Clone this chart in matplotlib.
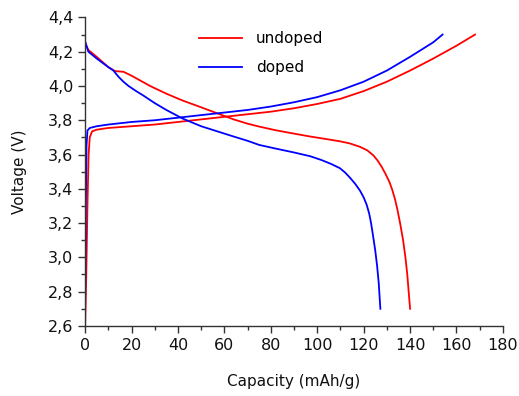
import matplotlib
matplotlib.use("Agg")
import matplotlib.pyplot as plt
from matplotlib.ticker import MultipleLocator, FuncFormatter

# =====================
#   DATA
# =====================
# undoped (red)
undoped_charge_cap = [0, 0.5, 1.0, 1.5, 2, 3, 5, 10, 20, 30, 40, 50, 60, 70, 80,
                      90, 100, 110, 120, 130, 140, 150, 160, 168]
undoped_charge_v = [2.6, 2.9, 3.3, 3.6, 3.70, 3.735, 3.745, 3.755, 3.765, 3.775,
                    3.79, 3.805, 3.82, 3.835, 3.85, 3.87, 3.895, 3.925, 3.97,
                    4.025, 4.09, 4.16, 4.235, 4.3]
undoped_dis_cap = [0, 0.7, 1.4, 5, 10, 12.9, 14.5, 16.5, 20, 24, 28, 35, 42, 49.5,
                   56, 64, 70, 75, 82, 90, 97, 104, 109.8, 114, 118.4, 121.5,
                   124.2, 126, 127.7, 129.5, 131.1, 132.3, 133.5, 134.6, 135.7,
                   137, 138, 138.8, 139.4, 140]
undoped_dis_v = [4.25, 4.23, 4.21, 4.17, 4.11, 4.087, 4.085, 4.083, 4.06, 4.03,
                 4.0, 3.955, 3.915, 3.878, 3.845, 3.805, 3.78, 3.763, 3.742,
                 3.722, 3.705, 3.69, 3.677, 3.665, 3.645, 3.625, 3.595, 3.565,
                 3.53, 3.485, 3.44, 3.395, 3.34, 3.275, 3.20, 3.10, 3.00, 2.90,
                 2.80, 2.70]

# doped (blue)
doped_charge_cap = [0, 0.3, 0.6, 1.0, 2, 5, 10, 20, 30, 40, 50, 60, 70, 80, 90,
                    100, 110, 120, 130, 140, 150, 154]
doped_charge_v = [2.75, 3.3, 3.65, 3.74, 3.755, 3.765, 3.775, 3.79, 3.80, 3.815,
                  3.83, 3.845, 3.86, 3.88, 3.905, 3.935, 3.975, 4.025, 4.09,
                  4.17, 4.255, 4.3]
doped_dis_cap = [0, 0.7, 1.4, 5, 10, 12.2, 14.3, 16.5, 18.7, 22, 25, 30, 35, 42,
                 50, 57, 64, 70, 75, 82, 90, 97, 102, 106, 109.8, 112, 114.1,
                 116.3, 118.4, 120, 121.3, 122.4, 123.2, 124, 125, 125.8, 126.5,
                 127.2]
doped_dis_v = [4.26, 4.23, 4.2, 4.16, 4.11, 4.09, 4.055, 4.025, 4.0, 3.97, 3.945,
               3.9, 3.86, 3.81, 3.765, 3.735, 3.705, 3.68, 3.656, 3.635, 3.612,
               3.59, 3.567, 3.545, 3.52, 3.495, 3.465, 3.43, 3.39, 3.35, 3.307,
               3.255, 3.20, 3.13, 3.04, 2.95, 2.85, 2.70]

RED = "#ff0000"
BLUE = "#0000ff"

# =====================
#   PLOT
# =====================
fig = plt.figure(figsize=(5.19, 3.96), dpi=100)
ax = fig.add_axes([0.164, 0.177, 0.805, 0.779])

ax.plot(undoped_charge_cap, undoped_charge_v, color=RED, lw=1.3, label="undoped")
ax.plot(undoped_dis_cap, undoped_dis_v, color=RED, lw=1.3)
ax.plot(doped_charge_cap, doped_charge_v, color=BLUE, lw=1.3, label="doped")
ax.plot(doped_dis_cap, doped_dis_v, color=BLUE, lw=1.3)

ax.set_xlim(0, 180)
ax.set_ylim(2.6, 4.4)
ax.xaxis.set_major_locator(MultipleLocator(20))
ax.xaxis.set_minor_locator(MultipleLocator(10))
ax.yaxis.set_major_locator(MultipleLocator(0.2))
ax.yaxis.set_minor_locator(MultipleLocator(0.1))
ax.yaxis.set_major_formatter(FuncFormatter(lambda v, p: f"{v:.1f}".replace(".", ",")))

for side in ("top", "right"):
    ax.spines[side].set_visible(False)
for side in ("left", "bottom"):
    ax.spines[side].set_color("#333333")
    ax.spines[side].set_linewidth(1.0)

ax.tick_params(which="major", direction="out", length=5, width=1, color="#333333",
               labelsize=11.5, labelcolor="#111111")
ax.tick_params(which="minor", direction="out", length=3, width=1, color="#333333")

ax.set_xlabel("Capacity (mAh/g)", fontsize=11, labelpad=15, color="#111111")
ax.set_ylabel("Voltage (V)", fontsize=11, labelpad=15, color="#111111")

ax.legend(loc="upper left", bbox_to_anchor=(0.24, 1.0), frameon=False,
          fontsize=11, handlelength=2.8, handletextpad=0.9, labelspacing=0.9)

fig.savefig("out.png", dpi=100)
